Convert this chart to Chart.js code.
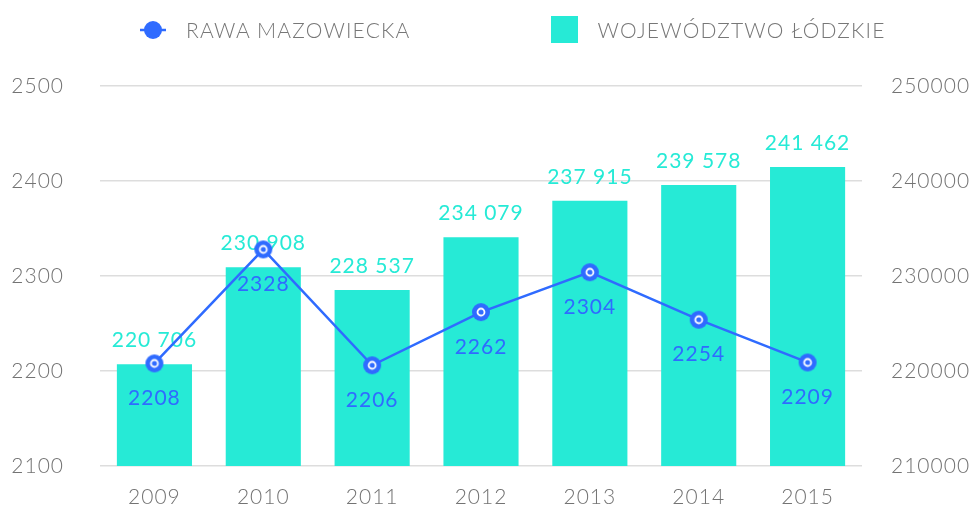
<!DOCTYPE html>
<html><head><meta charset="utf-8">
<script src="https://cdn.jsdelivr.net/npm/chart.js@4"></script>
<style>
html,body{margin:0;padding:0;background:#fff;}
#wrap{position:relative;width:974px;height:506px;}
#legend{position:absolute;left:140px;top:16px;height:27px;display:flex;align-items:center;font-family:Lato,"Open Sans",sans-serif;font-weight:300;font-size:21px;color:#777;letter-spacing:1.2px;white-space:nowrap;}
.item{display:flex;align-items:center;}
.item span{margin-left:20px;}
.sq{width:27px;height:27px;background:#26EAD6;}
#it2{margin-left:140px;}
canvas#c{position:absolute;left:0;top:0;}
</style>
</head><body>
<div id="wrap">
<canvas id="c" width="974" height="506"></canvas>
<div id="legend">
 <div class="item"><canvas id="lg1" width="26" height="20"></canvas><span>RAWA MAZOWIECKA</span></div>
 <div class="item" id="it2"><div class="sq"></div><span>WOJEWÓDZTWO ŁÓDZKIE</span></div>
</div>
</div>
<script>
const years = ['2009','2010','2011','2012','2013','2014','2015'];
const rawaValues = [2208, 2328, 2206, 2262, 2304, 2254, 2209];
const lodzkieValues = [220706, 230908, 228537, 234079, 237915, 239578, 241462];
const leftTicks = [2100, 2200, 2300, 2400, 2500];
const rightTicks = [210000, 220000, 230000, 240000, 250000];
const seriesNames = ['RAWA MAZOWIECKA', 'WOJEWÓDZTWO ŁÓDZKIE'];

const BLUE = '#2F6BFF';
const TEAL = '#26EAD6';
const GREY = '#737373';
const FONT = 'Lato, "Open Sans", sans-serif';

function drawMarker(g, cx, cy){
  g.fillStyle = BLUE;
  g.beginPath(); g.arc(cx, cy, 9, 0, Math.PI*2); g.fill();
  g.strokeStyle = '#fff'; g.lineWidth = 1.8;
  g.beginPath(); g.arc(cx, cy, 3.5, 0, Math.PI*2); g.stroke();
}
const pointImg = document.createElement('canvas');
pointImg.width = 20; pointImg.height = 20;
drawMarker(pointImg.getContext('2d'), 10, 10);

(function(){
  const g = document.getElementById('lg1').getContext('2d');
  g.strokeStyle = BLUE; g.lineWidth = 2.5;
  g.beginPath(); g.moveTo(0,10); g.lineTo(26,10); g.stroke();
  g.fillStyle = BLUE; g.beginPath(); g.arc(13,10,9,0,Math.PI*2); g.fill();
})();

function fmt(v){ return String(v).replace(/\B(?=(\d{3})+(?!\d))/g, ' '); }

const spacing = {
  id: 'spacing',
  beforeDraw(chart){ chart.ctx.letterSpacing = '1px'; }
};

const valueLabels = {
  id: 'valueLabels',
  afterDatasetDraw(chart, args){
    const ctx = chart.ctx, meta = args.meta, ds = chart.data.datasets[args.index];
    ctx.save();
    ctx.letterSpacing = '1px';
    ctx.font = '400 21px ' + FONT;
    ctx.textAlign = 'center'; ctx.textBaseline = 'middle';
    meta.data.forEach((el, i) => {
      const v = ds.data[i];
      if (meta.type === 'bar') { ctx.fillStyle = TEAL; ctx.fillText(fmt(v), el.x, el.y - 24); }
      else { ctx.fillStyle = BLUE; ctx.fillText(String(v), el.x, el.y + 35); }
    });
    ctx.restore();
  }
};

function fitY(width){
  return s => { s.width = width; s.paddingTop = 0; s.paddingBottom = 0; };
}

new Chart(document.getElementById('c'), {
  type: 'bar',
  data: {
    labels: years,
    datasets: [
      { type: 'line', label: seriesNames[0], data: rawaValues, yAxisID: 'y', order: 0,
        borderColor: BLUE, borderWidth: 2.5, pointStyle: pointImg, pointRadius: 9, tension: 0 },
      { type: 'bar', label: seriesNames[1], data: lodzkieValues, yAxisID: 'y1', order: 1,
        backgroundColor: TEAL, barPercentage: 0.69, categoryPercentage: 1 }
    ]
  },
  options: {
    responsive: false, animation: false,
    layout: { padding: { top: 86, left: 10, right: 0, bottom: 0 } },
    plugins: { legend: { display: false }, tooltip: { enabled: false } },
    scales: {
      x: { offset: true, grid: { display: false, drawTicks: false }, border: { display: false },
           afterFit: s => { s.height = 40; },
           ticks: { color: GREY, font: { family: FONT, size: 21, weight: 300 }, padding: 19 } },
      y: { position: 'left', min: leftTicks[0], max: leftTicks[leftTicks.length-1],
           afterBuildTicks: s => { s.ticks = leftTicks.map(v => ({ value: v })); },
           afterFit: fitY(90),
           grid: { color: '#dddddd', lineWidth: 1.5, drawTicks: false }, border: { display: false },
           ticks: { color: GREY, font: { family: FONT, size: 21, weight: 300 }, padding: 36,
                    callback: v => String(v) } },
      y1: { position: 'right', min: rightTicks[0], max: rightTicks[rightTicks.length-1],
           afterBuildTicks: s => { s.ticks = rightTicks.map(v => ({ value: v })); },
           afterFit: fitY(112),
           grid: { display: false, drawTicks: false }, border: { display: false },
           ticks: { color: GREY, font: { family: FONT, size: 21, weight: 300 }, padding: 29,
                    callback: v => String(v) } }
    }
  },
  plugins: [spacing, valueLabels]
});
</script>
</body></html>
